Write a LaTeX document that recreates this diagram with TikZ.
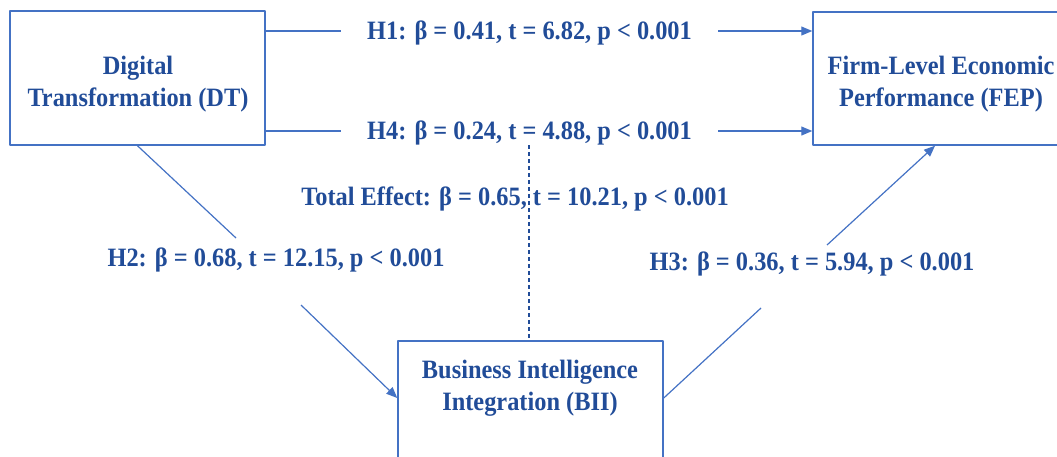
\documentclass[tikz,border=0pt]{standalone}
\usepackage{fontspec}
\setmainfont{Liberation Serif}[FakeStretch=0.92]
\usetikzlibrary{arrows.meta}
\definecolor{pathblue}{RGB}{68,114,196}
\definecolor{labelblue}{RGB}{33,76,152}
\tikzset{
  box/.style={draw=pathblue, line width=1.5pt, rectangle, inner sep=0pt},
  txt/.style={text=labelblue, font=\bfseries\fontsize{26.5}{32}\selectfont},
  boxtext/.style={txt, align=center},
  coef/.style={txt, text height=17.5pt, text depth=0pt, inner ysep=0pt},
  effect/.style={draw=pathblue, line width=1.2pt},
  effectarrow/.style={effect, -{Triangle[length=11pt,width=9pt]}}
}
\begin{document}
\begin{tikzpicture}[x=1pt, y=-1pt, line join=round]
  \clip (0,0) rectangle (1057,456);

  \node[box, minimum width=255pt, minimum height=134pt] (dt) at (137.5,78) {};
  \node[box, minimum width=256pt, minimum height=133pt] (fep) at (941,78.5) {};
  \node[box, minimum width=265pt, minimum height=150pt, anchor=north] (bii) at (530.5,340) {};
  \node[boxtext] (dttext) at (138,84) {Digital\\Transformation (DT)};
  \node[boxtext] (feptext) at (941,84.5) {Firm-Level Economic\\Performance (FEP)};
  \node[boxtext] (biitext) at (530,388) {Business Intelligence\\Integration (BII)};

  \coordinate (tetop) at (529,145);
  \coordinate (h2in) at (236,238);
  \coordinate (h2out) at (301,305);
  \coordinate (h3in) at (761,308);
  \coordinate (h3out) at (827,245);

  \draw[effect, draw=labelblue, line width=1.1pt, dash pattern=on 4pt off 3pt] (tetop) -- (tetop |- bii.north);

  \node[coef, inner xsep=26pt] (h1) at (529.5,31) {H1: β = 0.41, t = 6.82, p < 0.001};
  \node[coef, inner xsep=26pt] (h4) at (529.5,131) {H4: β = 0.24, t = 4.88, p < 0.001};
  \node[coef] (total) at (515,197) {Total Effect: β = 0.65, t = 10.21, p < 0.001};
  \node[coef] (h2) at (276,258) {H2: β = 0.68, t = 12.15, p < 0.001};
  \node[coef] (h3) at (812,262) {H3: β = 0.36, t = 5.94, p < 0.001};

  \draw[effect] (dt.east |- h1) -- (h1);
  \draw[effectarrow] (h1) -- (fep.west |- h1);
  \draw[effect] (dt.east |- h4) -- (h4);
  \draw[effectarrow] (h4) -- (fep.west |- h4);
  \draw[effect] (dt.south) -- (h2in);
  \draw[effectarrow] (h2out) -- (bii.west |- 0,398);
  \draw[effect] (bii.east |- 0,398) -- (h3in);
  \draw[effectarrow] (h3out) -- (fep.south -| 935,0);
\end{tikzpicture}
\end{document}
